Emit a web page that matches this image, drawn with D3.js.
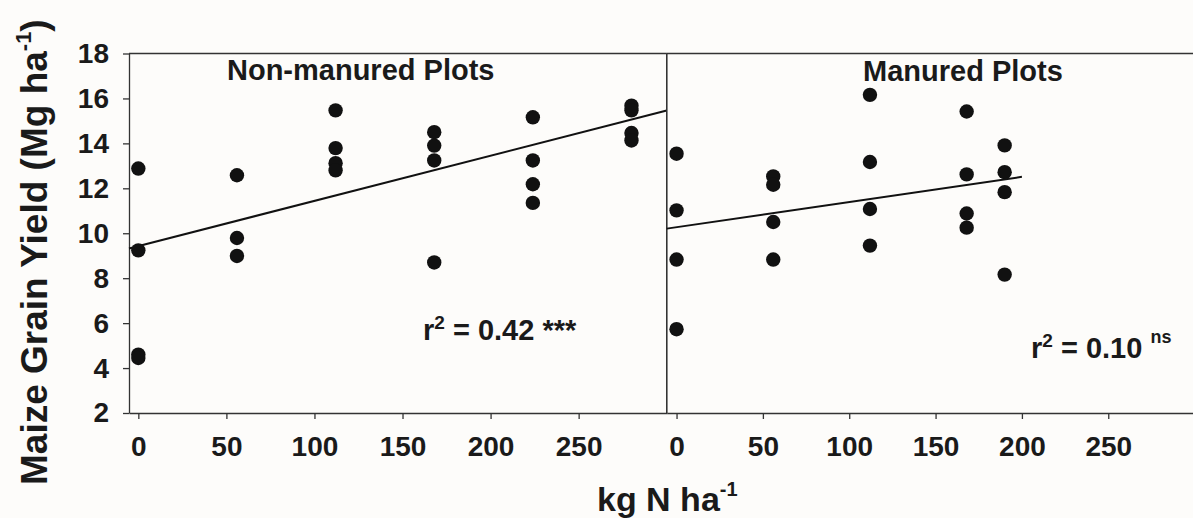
<!DOCTYPE html>
<html lang="en">
<head>
  <meta charset="utf-8">
  <script src="https://d3js.org/d3.v7.min.js"></script>
  <style>
    body { margin: 0; background: #fdfcfa; }
    svg text { font-family: "Liberation Sans", Arial, sans-serif; font-weight: bold; fill: #1a1a1a; }
  </style>
</head>
<body>
  <script>
    // values
    const nonManuredN = [0, 0, 0, 0, 56, 56, 56, 112, 112, 112, 112, 168, 168, 168, 168, 224, 224, 224, 224, 280, 280, 280, 280];
    const nonManuredYield = [12.88, 9.24, 4.6, 4.45, 12.58, 9.79, 8.99, 15.47, 13.79, 13.12, 12.8, 14.5, 13.9, 13.24, 8.7, 15.16, 13.24, 12.18, 11.35, 15.68, 15.47, 14.46, 14.13];
    const manuredN = [0, 0, 0, 0, 56, 56, 56, 56, 112, 112, 112, 112, 168, 168, 168, 168, 190, 190, 190, 190];
    const manuredYield = [13.54, 11.02, 8.83, 5.73, 12.53, 12.16, 10.5, 8.83, 16.16, 13.17, 11.08, 9.45, 15.42, 12.62, 10.88, 10.25, 13.91, 12.72, 11.83, 8.16];

    const panelTitles = ["Non-manured Plots", "Manured Plots"];
    const r2Values = ["0.42", "0.10"];
    const r2Signif = ["***", "ns"];
    // regression lines (intercept, slope, x extent) as drawn in the figure
    const fitIntercept = [9.43, 10.27];
    const fitSlope = [0.0201, 0.0112];
    const fitFrom = [-5.3, -5.7];
    const fitTo = [300, 200];

    const xTicks = [0, 50, 100, 150, 200, 250];
    const yTicks = [2, 4, 6, 8, 10, 12, 14, 16, 18];

    var width = 1193;
    var height = 518;
    var plotTop = 53.5, plotBottom = 413;

    const svg = d3.select("body")
      .append("svg")
      .attr("width", width)
      .attr("height", height);

    var y = d3.scaleLinear().domain([2, 18]).range([plotBottom, plotTop]);
    var xLeft = d3.scaleLinear().domain([-5.3, 300]).range([129, 666.7]);
    var xRight = d3.scaleLinear().domain([-5.7, 300]).range([666.7, 1194.6]);

    var panels = [
      { x: xLeft, n: nonManuredN, yld: nonManuredYield },
      { x: xRight, n: manuredN, yld: manuredYield }
    ];

    // y axis (left panel only)
    const yAxis = svg.append("g")
      .attr("transform", "translate(129,0)")
      .call(d3.axisLeft(y).tickValues(yTicks).tickSize(6).tickSizeOuter(0).tickPadding(14));
    yAxis.selectAll("text").attr("font-size", "28px");

    panels.forEach(function(p, i) {
      var x = p.x;
      var x0 = x.range()[0], x1 = x.range()[1];

      // bottom axis
      const xa = svg.append("g")
        .attr("transform", "translate(0," + plotBottom + ")")
        .call(d3.axisBottom(x).tickValues(xTicks).tickSize(6).tickSizeOuter(0).tickPadding(17));
      xa.selectAll("text").attr("font-size", "28px");

      // frame lines
      svg.append("line")
        .attr("x1", x0).attr("x2", x1).attr("y1", plotTop).attr("y2", plotTop)
        .attr("stroke", "#333").attr("stroke-width", 1.3);
      svg.append("line")
        .attr("x1", i == 0 ? x1 : x0).attr("x2", i == 0 ? x1 : x0)
        .attr("y1", plotTop).attr("y2", plotBottom)
        .attr("stroke", "#333").attr("stroke-width", 1.3);

      // regression line
      svg.append("line")
        .attr("x1", x(fitFrom[i]))
        .attr("y1", y(fitIntercept[i] + fitSlope[i] * fitFrom[i]))
        .attr("x2", x(fitTo[i]))
        .attr("y2", y(fitIntercept[i] + fitSlope[i] * fitTo[i]))
        .attr("stroke", "#111")
        .attr("stroke-width", 2);

      // points
      svg.append("g").selectAll("circle")
        .data(p.n)
        .enter()
        .append("circle")
        .attr("cx", function(d) { return x(d); })
        .attr("cy", function(d, j) { return y(p.yld[j]); })
        .attr("r", 7.2)
        .attr("fill", "#111");
    });

    svg.selectAll(".domain, .tick line").attr("stroke", "#333").attr("stroke-width", 1.3);

    // panel titles
    svg.append("text").attr("x", 227).attr("y", 80).attr("font-size", "29px").text(panelTitles[0]);
    svg.append("text").attr("x", 863).attr("y", 81).attr("font-size", "29px").text(panelTitles[1]);

    // r squared labels
    var r2a = svg.append("text").attr("x", 423).attr("y", 340).attr("font-size", "29px");
    r2a.append("tspan").text("r");
    r2a.append("tspan").attr("font-size", "19px").attr("dy", -11).text("2");
    r2a.append("tspan").attr("dy", 11).text(" = " + r2Values[0] + " " + r2Signif[0]);

    var r2b = svg.append("text").attr("x", 1031).attr("y", 358).attr("font-size", "29px");
    r2b.append("tspan").text("r");
    r2b.append("tspan").attr("font-size", "19px").attr("dy", -11).text("2");
    r2b.append("tspan").attr("dy", 11).text(" = " + r2Values[1] + " ");
    r2b.append("tspan").attr("font-size", "18px").attr("dy", -15).text(r2Signif[1]);

    // axis titles
    var xt = svg.append("text").attr("x", 597).attr("y", 511).attr("font-size", "34px");
    xt.append("tspan").text("kg N ha");
    xt.append("tspan").attr("font-size", "20px").attr("dy", -15).text("-1");

    var yt = svg.append("text")
      .attr("transform", "translate(47,485) rotate(-90)")
      .attr("font-size", "37px");
    yt.append("tspan").text("Maize Grain Yield (Mg ha");
    yt.append("tspan").attr("font-size", "22px").attr("dy", -16).text("-1");
    yt.append("tspan").attr("dy", 16).text(")");
  </script>
</body>
</html>
